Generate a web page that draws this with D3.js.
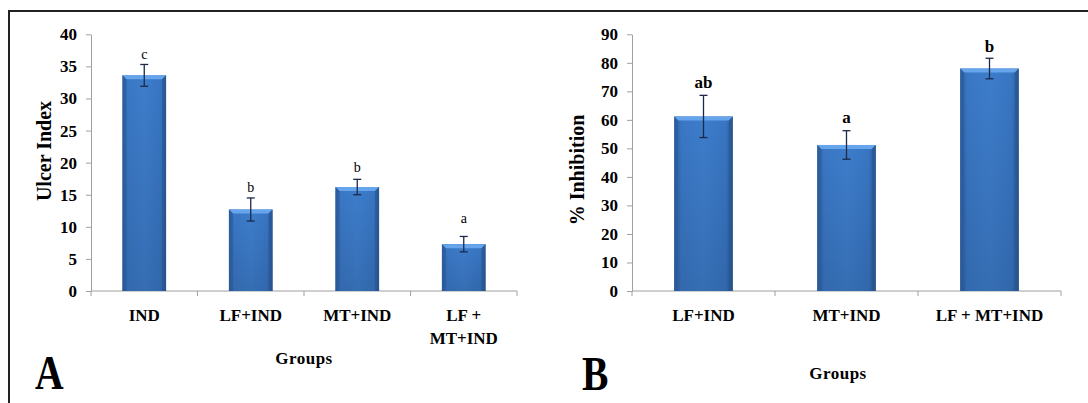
<!DOCTYPE html>
<html>
<head>
<meta charset="utf-8">
<script src="https://cdn.jsdelivr.net/npm/d3@7"></script>
<style>
  body { margin: 0; background: #fff; }
  svg { display: block; }
  svg text { font-family: "Liberation Serif", "Times New Roman", serif; fill: #000; }
</style>
</head>
<body>
<svg width="1088" height="403"></svg>
<script>
// Panel A: ulcer index
const groupsA = ["IND", "LF+IND", "MT+IND", "LF +\nMT+IND"];
const ulcerIndex = [33.6, 12.7, 16.2, 7.3];
const ulcerErr = [1.7, 1.8, 1.2, 1.2];
const lettersA = ["c", "b", "b", "a"];
const letterPosA = [36.1, 15.4, 18.5, 10.6];
const ticksA = [0, 5, 10, 15, 20, 25, 30, 35, 40];

// Panel B: % inhibition
const groupsB = ["LF+IND", "MT+IND", "LF + MT+IND"];
const inhibition = [61.2, 51.2, 78.0];
const inhibErr = [7.4, 5.0, 3.6];
const lettersB = ["ab", "a", "b"];
const letterPosB = [71.2, 58.9, 83.8];
const ticksB = [0, 10, 20, 30, 40, 50, 60, 70, 80, 90];

const FONT = "Liberation Serif, Times New Roman, serif";

const svg = d3.select("svg");
const defs = svg.append("defs");

const grad = defs.append("linearGradient").attr("id", "barGrad")
    .attr("x1", "0%").attr("x2", "100%").attr("y1", "0%").attr("y2", "0%");
grad.append("stop").attr("offset", "0%").attr("stop-color", "#2b5d9f");
grad.append("stop").attr("offset", "12%").attr("stop-color", "#3a77c4");
grad.append("stop").attr("offset", "50%").attr("stop-color", "#3d7dcc");
grad.append("stop").attr("offset", "88%").attr("stop-color", "#3875c2");
grad.append("stop").attr("offset", "100%").attr("stop-color", "#2a5a9a");

const shade = defs.append("linearGradient").attr("id", "barShade")
    .attr("x1", "0%").attr("x2", "0%").attr("y1", "0%").attr("y2", "100%");
shade.append("stop").attr("offset", "0%").attr("stop-color", "#000").attr("stop-opacity", 0);
shade.append("stop").attr("offset", "100%").attr("stop-color", "#000").attr("stop-opacity", 0.12);

// frame
svg.append("path")
    .attr("d", "M9,403 L9,11 L1088,11")
    .attr("fill", "none")
    .attr("stroke", "#222")
    .attr("stroke-width", 2);

function drawPanel(opt) {
    const g = svg.append("g").attr("font-family", FONT);
    const x = d3.scaleBand().domain(opt.groups).range([opt.left, opt.right]).paddingInner(0.59).paddingOuter(0.295);
    const y = d3.scaleLinear().domain([0, opt.max]).range([291, 34.3]);

    // y axis
    const yAxis = g.append("g")
        .attr("transform", `translate(${opt.left},0)`)
        .call(d3.axisLeft(y).tickValues(opt.ticks).tickSize(5).tickSizeOuter(0).tickPadding(opt.pad));
    yAxis.attr("font-family", FONT);
    yAxis.select(".domain").attr("stroke", "#a0a0a0");
    yAxis.selectAll(".tick line").attr("stroke", "#a0a0a0");
    yAxis.selectAll(".tick text")
        .attr("font-size", 17).attr("font-weight", "bold").attr("fill", "#000");

    // x axis line with ticks at category boundaries
    g.append("line")
        .attr("x1", opt.left).attr("x2", opt.right)
        .attr("y1", y(0)).attr("y2", y(0))
        .attr("stroke", "#a0a0a0");
    const bounds = d3.range(opt.groups.length + 1).map(i => opt.left + i * (opt.right - opt.left) / opt.groups.length);
    g.selectAll(".xt").data(bounds).join("line")
        .attr("x1", d => d).attr("x2", d => d)
        .attr("y1", y(0)).attr("y2", y(0) + 5)
        .attr("stroke", "#a0a0a0");

    const bw = x.bandwidth();
    // bars
    const bars = g.selectAll(".bar").data(opt.values).join("g");
    bars.append("rect")
        .attr("x", (d, i) => x(opt.groups[i]))
        .attr("y", d => y(d))
        .attr("width", bw)
        .attr("height", d => y(0) - y(d))
        .attr("fill", "url(#barGrad)");
    bars.append("rect")
        .attr("x", (d, i) => x(opt.groups[i]))
        .attr("y", d => y(d))
        .attr("width", bw)
        .attr("height", d => y(0) - y(d))
        .attr("fill", "url(#barShade)");
    // top bevel
    bars.append("path")
        .attr("d", (d, i) => {
            const x0 = x(opt.groups[i]), x1 = x0 + bw, t = y(d), b = 4;
            return `M${x0},${t} L${x1},${t} L${x1 - b},${t + b} L${x0 + b},${t + b} Z`;
        })
        .attr("fill", "#66a4ec");
    // side bevels
    bars.append("path")
        .attr("d", (d, i) => {
            const x0 = x(opt.groups[i]), t = y(d), b = 4;
            return `M${x0},${t} L${x0 + b},${t + b} L${x0 + b},${y(0)} L${x0},${y(0)} Z`;
        })
        .attr("fill", "#2b5b9b").attr("opacity", 0.6);
    bars.append("path")
        .attr("d", (d, i) => {
            const x1 = x(opt.groups[i]) + bw, t = y(d), b = 4;
            return `M${x1},${t} L${x1 - b},${t + b} L${x1 - b},${y(0)} L${x1},${y(0)} Z`;
        })
        .attr("fill", "#28558f").attr("opacity", 0.6);

    // error bars
    const eb = g.selectAll(".err").data(opt.values).join("g")
        .attr("stroke", "#1c2a48").attr("stroke-width", 1.3);
    const cx = i => x(opt.groups[i]) + bw / 2;
    eb.append("line")
        .attr("x1", (d, i) => cx(i)).attr("x2", (d, i) => cx(i))
        .attr("y1", (d, i) => y(d + opt.err[i])).attr("y2", (d, i) => y(d - opt.err[i]));
    eb.append("line")
        .attr("x1", (d, i) => cx(i) - 4).attr("x2", (d, i) => cx(i) + 4)
        .attr("y1", (d, i) => y(d + opt.err[i])).attr("y2", (d, i) => y(d + opt.err[i]));
    eb.append("line")
        .attr("x1", (d, i) => cx(i) - 4).attr("x2", (d, i) => cx(i) + 4)
        .attr("y1", (d, i) => y(d - opt.err[i])).attr("y2", (d, i) => y(d - opt.err[i]));

    // significance letters
    g.selectAll(".sig").data(opt.letters).join("text")
        .attr("x", (d, i) => cx(i))
        .attr("y", (d, i) => y(opt.letterPos[i]))
        .attr("text-anchor", "middle")
        .attr("font-size", opt.letterSize)
        .attr("font-weight", opt.letterWeight)
        .text(d => d);

    // category labels
    g.selectAll(".cat").data(opt.groups).join("text")
        .attr("x", d => x(d) + bw / 2)
        .attr("y", 321)
        .attr("text-anchor", "middle")
        .attr("font-size", 17).attr("font-weight", "bold")
        .each(function(d) {
            const lines = d.split("\n");
            d3.select(this).selectAll("tspan").data(lines).join("tspan")
                .attr("x", x(d) + bw / 2)
                .attr("dy", (l, j) => j === 0 ? 0 : 23)
                .text(l => l);
        });

    // y title
    g.append("text")
        .attr("transform", `translate(${opt.titleX},${opt.titleY}) rotate(-90)`)
        .attr("text-anchor", "middle")
        .attr("font-size", 20).attr("font-weight", "bold")
        .text(opt.title);

    // x title
    g.append("text")
        .attr("x", opt.groupsX).attr("y", opt.groupsY)
        .attr("text-anchor", "middle")
        .attr("font-size", 17).attr("font-weight", "bold")
        .attr("letter-spacing", 0.5)
        .text("Groups");

    // panel letter
    g.append("text")
        .attr("transform", `translate(${opt.tagX},${opt.tagY}) scale(0.88,1.08)`)
        .attr("font-size", 45).attr("font-weight", "bold")
        .text(opt.tag);
}

drawPanel({
    groups: groupsA, values: ulcerIndex, err: ulcerErr, letters: lettersA, letterPos: letterPosA,
    ticks: ticksA, max: 40, left: 91, right: 517, pad: 9,
    letterSize: 14, letterWeight: "normal",
    title: "Ulcer Index", titleX: 51, titleY: 151,
    groupsX: 304, groupsY: 364, tag: "A", tagX: 35, tagY: 389
});

drawPanel({
    groups: groupsB, values: inhibition, err: inhibErr, letters: lettersB, letterPos: letterPosB,
    ticks: ticksB, max: 90, left: 632, right: 1061, pad: 9,
    letterSize: 17, letterWeight: "bold",
    title: "% Inhibition", titleX: 584, titleY: 170,
    groupsX: 838, groupsY: 379, tag: "B", tagX: 582, tagY: 390
});
</script>
</body>
</html>
